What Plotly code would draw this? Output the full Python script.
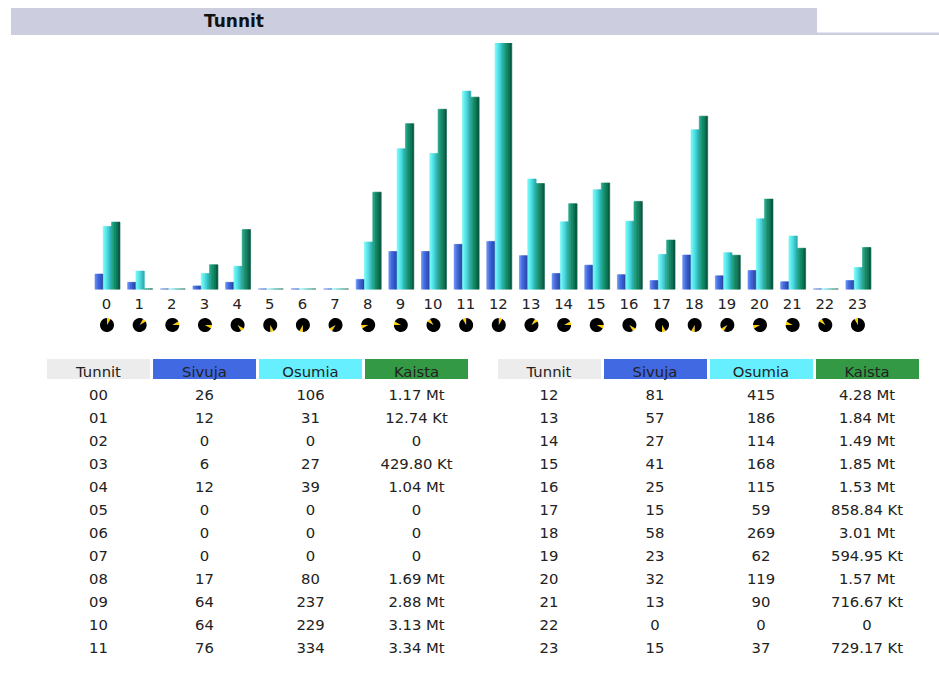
import plotly.graph_objects as go

hours = list(range(24))
hour_labels = [f"{h:02d}" for h in hours]
sivuja = [26, 12, 0, 6, 12, 0, 0, 0, 17, 64, 64, 76, 81, 57, 27, 41, 25, 15, 58, 23, 32, 13, 0, 15]
osumia = [106, 31, 0, 27, 39, 0, 0, 0, 80, 237, 229, 334, 415, 186, 114, 168, 115, 59, 269, 62, 119, 90, 0, 37]
kaista_mt = [1.17, 0.01274, 0, 0.4298, 1.04, 0, 0, 0, 1.69, 2.88, 3.13, 3.34, 4.28, 1.84, 1.49, 1.85,
             1.53, 0.85884, 3.01, 0.59495, 1.57, 0.71667, 0, 0.72917]
kaista_txt = ["1.17 Mt", "12.74 Kt", "0", "429.80 Kt", "1.04 Mt", "0", "0", "0", "1.69 Mt", "2.88 Mt", "3.13 Mt", "3.34 Mt",
              "4.28 Mt", "1.84 Mt", "1.49 Mt", "1.85 Mt", "1.53 Mt", "858.84 Kt", "3.01 Mt", "594.95 Kt", "1.57 Mt",
              "716.67 Kt", "0", "729.17 Kt"]
headers = ["Tunnit", "Sivuja", "Osumia", "Kaista"]

W, H = 939, 681
FONT = "DejaVu Sans, Verdana, sans-serif"
TXT = "#222222"
FS = 14.8
PX0, PXSTEP = 106.5, 32.65


def fx(px):
    return px / W


def fy(py):
    return 1 - py / H


fig = go.Figure()

BAR_W = 8.4 / PXSTEP
series = [
    (sivuja, "y", -0.352, ["#5f88ec", "#4169e1", "#3457c8", "#2b47a8"]),
    (osumia, "y", -0.098, ["#70f5f5", "#55e5e8", "#3fcfd3", "#2fb0b5"]),
    (kaista_mt, "y2", 0.156, ["#22a585", "#128c6a", "#0d7a5a", "#095c44"]),
]
for values, axis, start, colors in series:
    n = len(colors)
    w = BAR_W / n
    line_w = [2 if v == 0 else 0.6 for v in values]
    for i, c in enumerate(colors):
        fig.add_bar(x=hours, y=values, yaxis=axis, width=w, offset=start + i * w,
                    marker=dict(color=c, line=dict(color=c, width=line_w)),
                    showlegend=False, hoverinfo="skip", cliponaxis=False)

# small 12-hour clock faces under the axis
for h in hours:
    cx = PX0 + 0.5 + PXSTEP * h
    cy, r = 325, 7
    fig.add_pie(values=[2, 22], labels=["a", "b"], sort=False, direction="clockwise",
                rotation=(h % 12) * 30, textinfo="none", showlegend=False, hoverinfo="skip",
                marker=dict(colors=["#ffcc00", "#000000"], line=dict(width=0)),
                domain=dict(x=[fx(cx - r), fx(cx + r)], y=[fy(cy + r), fy(cy - r)]))


def table(left, right, idx):
    fig.add_table(
        domain=dict(x=[fx(left), fx(right)], y=[fy(659), fy(357.5)]),
        columnwidth=[1, 1, 1, 1],
        header=dict(values=headers, height=23, align="center",
                    fill_color=[["#ececec"], ["#4169e1"], ["#66f0ff"], ["#339944"]],
                    line=dict(color="white", width=3),
                    font=dict(family=FONT, size=FS, color=TXT)),
        cells=dict(values=[[hour_labels[i] for i in idx], [sivuja[i] for i in idx],
                           [osumia[i] for i in idx], [kaista_txt[i] for i in idx]],
                   height=23, align="center", fill_color="white",
                   line=dict(color="white", width=0),
                   font=dict(family=FONT, size=FS, color=TXT)),
    )


table(45.5, 470, hours[:12])
table(496, 920, hours[12:])

fig.update_layout(
    width=W, height=H, margin=dict(l=0, r=0, t=0, b=0, pad=0, autoexpand=False),
    paper_bgcolor="white", plot_bgcolor="white", barmode="overlay",
    xaxis=dict(range=[-PX0 / PXSTEP, (W - PX0) / PXSTEP], domain=[0, 1], tickvals=hours, ticktext=[str(h) for h in hours],
               showgrid=False, zeroline=False, showline=False, ticks="outside", ticklen=1, tickcolor="white",
               tickfont=dict(family=FONT, size=FS, color=TXT), fixedrange=True),
    yaxis=dict(range=[0, 415], domain=[fy(289.5), fy(43)], visible=False, fixedrange=True),
    yaxis2=dict(range=[0, 4.28], domain=[fy(289.5), fy(43)], overlaying="y", visible=False, fixedrange=True),
    shapes=[
        dict(type="rect", xref="paper", yref="paper", x0=fx(11), x1=fx(817), y0=fy(35), y1=fy(8),
             fillcolor="#cccddf", line=dict(width=0), layer="below"),
        dict(type="rect", xref="paper", yref="paper", x0=fx(817), x1=fx(939), y0=fy(35), y1=fy(32.5),
             fillcolor="#cccddf", line=dict(width=0), layer="below"),
    ],
    annotations=[dict(text="<b>Tunnit</b>", xref="paper", yref="paper", x=fx(233.5), y=fy(21), xanchor="center",
                      yanchor="middle", showarrow=False,
                      font=dict(family=FONT, size=17, color="#111111"))],
)

fig.write_html("out.html", config=dict(displayModeBar=False), post_script="document.body.style.margin='0';")
